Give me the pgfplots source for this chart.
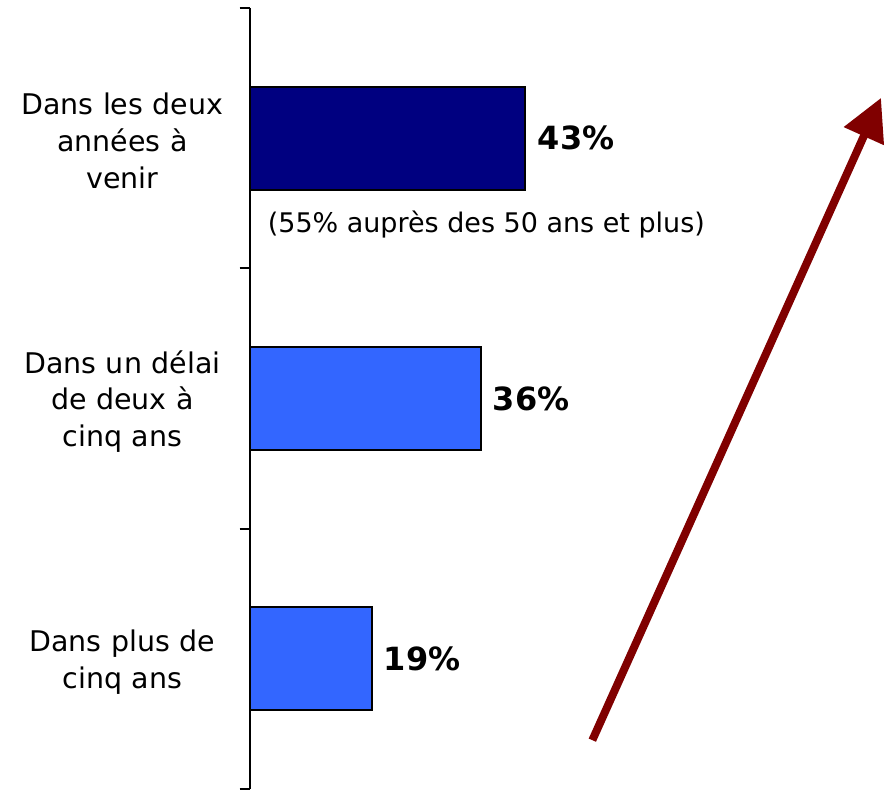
\documentclass[border=0pt]{standalone}
\usepackage{fontspec}
\setmainfont{DejaVu Sans}
\usepackage{pgfplots}
\pgfplotsset{compat=1.18}
\usetikzlibrary{arrows.meta}
\definecolor{navybar}{RGB}{0,0,128}
\definecolor{bluebar}{RGB}{51,102,255}
\definecolor{arrowred}{RGB}{128,0,0}
\begin{document}
\begin{tikzpicture}[x=1pt,y=1pt]
\path (0,0) rectangle (885,791);
\begin{axis}[
    at={(250pt,1pt)}, anchor=south west,
    scale only axis, width=635pt, height=782pt,
    xmin=0, xmax=98.9, ymin=-0.5, ymax=2.5, y dir=reverse,
    axis x line=none, axis y line*=left,
    axis line style={line width=1.8pt, black},
    xbar, bar width=103pt,
    ytick={0,1,2},
    yticklabels={{Dans les deux\\années à\\venir},{Dans un délai\\de deux à\\cinq ans},{Dans plus de\\cinq ans}},
    major tick length=0pt,
    extra y ticks={-0.5,0.5,1.5,2.5}, extra y tick labels={},
    extra y tick style={major tick length=10pt, tick align=outside, tick style={line width=1.8pt, black}},
    yticklabel style={align=center, text width=204pt, font=\fontsize{28.5}{37}\selectfont, xshift=-22pt, yshift=-3pt},
    /pgf/number format/assume math mode=true,
    nodes near coords={\pgfmathprintnumber{\pgfplotspointmeta}\%},
    nodes near coords style={font=\bfseries\fontsize{32}{32}\selectfont, black, anchor=west, xshift=8pt},
    clip=false,
]
% Dans les deux années à venir
\addplot[fill=navybar, draw=black, line width=2pt, bar shift=0pt]
    coordinates {(43,0)};
% autres délais
\addplot[fill=bluebar, draw=black, line width=2pt, bar shift=0pt]
    coordinates {(36,1) (19,2)};
\node[anchor=west, inner sep=0pt, font=\fontsize{27}{27}\selectfont]
    at (axis cs:2.8,0.33) {(55\% auprès des 50 ans et plus)};
\end{axis}
\draw[arrowred, line width=8pt, -{Triangle[length=42pt,width=42pt]}] (593,50) -- (882,693);
\end{tikzpicture}
\end{document}
